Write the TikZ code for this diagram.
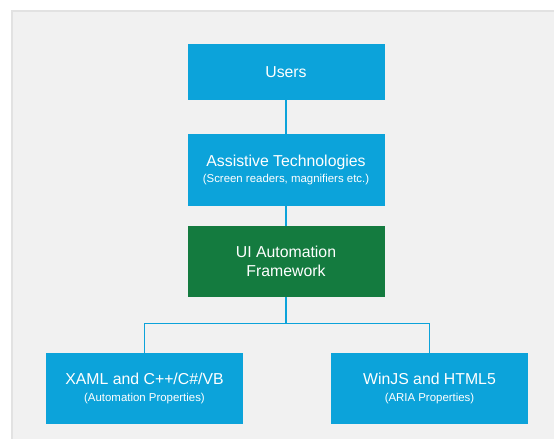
\documentclass[tikz,border=0pt]{standalone}
\usepackage{fontspec}
\setmainfont{Liberation Sans}
\usepackage{tikz}

\definecolor{uiblue}{HTML}{0CA3DA}
\definecolor{uigreen}{HTML}{147B3F}
\definecolor{panelgray}{HTML}{F1F1F1}
\definecolor{panelline}{HTML}{E2E2E2}

\newcommand{\subline}[1]{\\[-1pt]{\fontsize{6.5}{8}\selectfont #1}}

\begin{document}
\begin{tikzpicture}[
    box/.style={rectangle, fill=uiblue, text=white, minimum width=3.94cm,
        minimum height=1.42cm, inner sep=0pt, align=center,
        font=\fontsize{9}{10.5}\selectfont},
    link/.style={draw=uiblue, line width=1.1pt} % connectors
]
    \useasboundingbox (0,0) rectangle (11.08,-8.78);
    \fill[panelgray] (0.24,-0.22) rectangle (11.2,-8.9);
    \draw[panelline, line width=0.8pt] (0.24,-8.9) -- (0.24,-0.22) -- (11.2,-0.22);
    \node[box, minimum height=1.12cm] (users) at (5.72, -1.44) {Users};
    \node[box, minimum height=1.44cm] (assist) at (5.72, -3.40)
        {Assistive Technologies\subline{(Screen readers, magnifiers etc.)}};
    \node[box, fill=uigreen] (uia) at (5.72, -5.23) {UI Automation\\Framework};
    \node[box] (xaml) at (2.89, -7.77)
        {XAML and C++/C\#/VB\subline{(Automation Properties)}};
    \node[box] (winjs) at (8.59, -7.77)
        {WinJS and HTML5\subline{(ARIA Properties)}};
    \coordinate (split) at (5.72, -6.47);
    \draw[link] (users) -- (assist);
    \draw[link] (assist) -- (uia);
    \draw[link] (uia) -- (split);
    \draw[link] (xaml) |- (split) -| (winjs);
\end{tikzpicture}
\end{document}
